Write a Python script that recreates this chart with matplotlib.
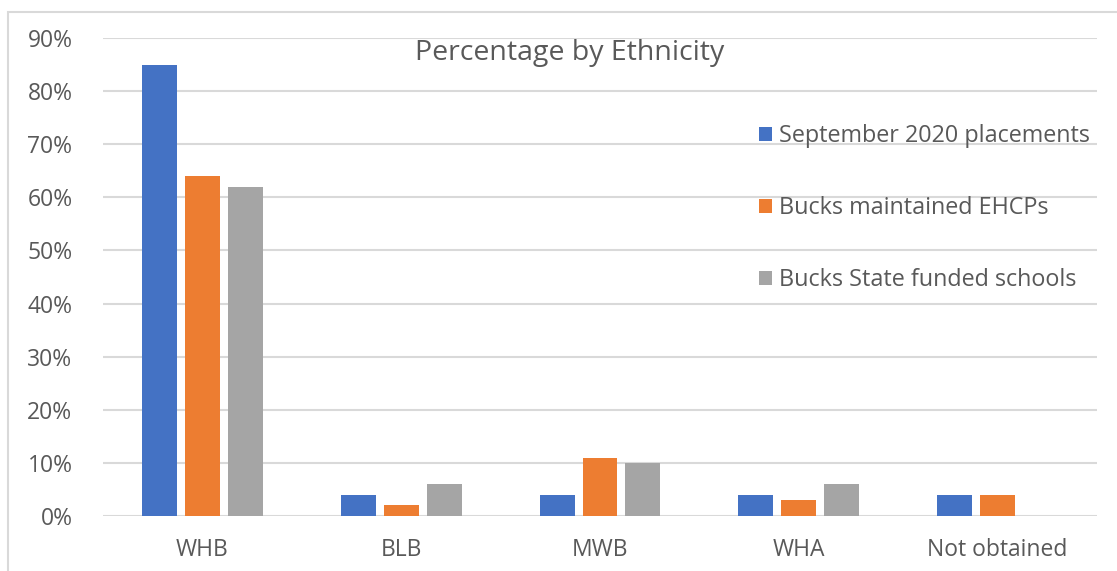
import numpy as np
from matplotlib import pyplot as plt
from matplotlib.patches import Rectangle
from matplotlib.ticker import PercentFormatter

CATEGORIES = ["WHB", "BLB", "MWB", "WHA", "Not obtained"]
SERIES = ["September 2020 placements", "Bucks maintained EHCPs", "Bucks State funded schools"]
SEPT_2020 = [85, 4, 4, 4, 4]
BUCKS_EHCP = [64, 2, 11, 3, 4]
BUCKS_STATE = [62, 6, 10, 6, 0]
COLORS = ["#4472C4", "#ED7D31", "#A5A5A5"]


def main():
    plt.rcParams['font.family'] = ['Open Sans', 'DejaVu Sans']
    fig = plt.figure(figsize=(11.17, 5.71), dpi=100)
    W, H = 1117, 571
    ax = fig.add_axes([103 / W, 1 - 516 / H, (1097 - 103) / W, (516 - 38) / H])

    # chart border
    fig.patches.append(Rectangle((8 / W, -0.01), 1.02, 1 - 12 / H + 0.01,
                                 transform=fig.transFigure, fill=False,
                                 edgecolor="#D9D9D9", linewidth=1.5))

    x = np.arange(len(CATEGORIES))
    width = 0.176
    step = 0.216
    values = [SEPT_2020, BUCKS_EHCP, BUCKS_STATE]
    for i, (name, vals, col) in enumerate(zip(SERIES, values, COLORS)):
        ax.bar(x + (i - 1) * step, vals, width, color=col, label=name, zorder=3)

    ax.set_xlim(-0.5, len(CATEGORIES) - 0.5)
    ax.set_ylim(0, 90)
    ax.set_yticks(range(0, 91, 10))
    ax.yaxis.set_major_formatter(PercentFormatter(decimals=0))
    ax.set_xticks(x)
    ax.set_xticklabels(CATEGORIES)
    ax.grid(axis="y", color="#D9D9D9", linewidth=1.5, zorder=0)
    for s in ax.spines.values():
        s.set_visible(False)
    ax.tick_params(length=0, labelsize=16.5, colors="#595959")
    ax.tick_params(axis="y", pad=22)
    ax.tick_params(axis="x", pad=16)

    fig.text(570 / W, 1 - 53 / H, "Percentage by Ethnicity", ha="center", va="center",
             fontsize=20.5, color="#595959")

    ax.legend(loc="upper left",
              bbox_to_anchor=((750 - 103) / (1097 - 103), 1 - (115 - 38) / (516 - 38)),
              frameon=False, fontsize=16.8, labelcolor="#595959",
              handlelength=0.55, handleheight=0.55, handletextpad=0.3,
              labelspacing=2.05, borderaxespad=0)

    fig.savefig("out.png", dpi=100)


if __name__ == '__main__':
    main()
